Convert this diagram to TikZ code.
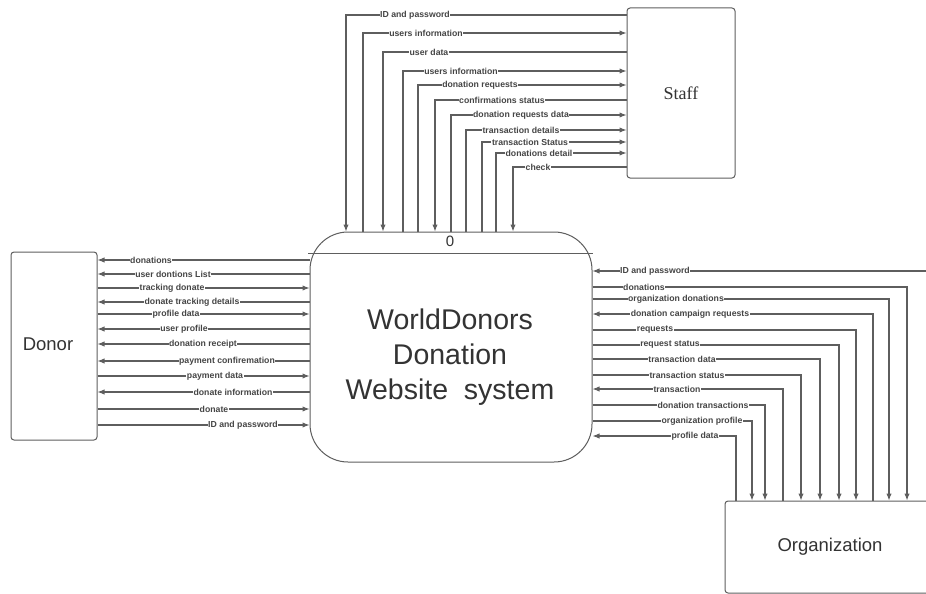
\documentclass[tikz,border=0pt]{standalone}
\usepackage{fontspec}
\usetikzlibrary{arrows.meta}
\newfontfamily\sansf{Liberation Sans}
\newfontfamily\seriff{Liberation Serif}
\definecolor{linegray}{HTML}{5E5E5E}
\definecolor{textgray}{HTML}{454545}
\definecolor{darkgray}{HTML}{333333}
\begin{document}
\begin{tikzpicture}[x=1pt,y=-1pt,
  conn/.style={draw=linegray, line width=1.1pt},
  fwd/.style={-{Latex[length=7pt,width=5.4pt]}},
  bwd/.style={{Latex[length=7pt,width=5.4pt]}-},
  lbl/.style={fill=white, inner sep=0.6pt, text=textgray,
    font=\sansf\bfseries\fontsize{8.7}{9}\selectfont},
  entity/.style={draw=linegray, line width=1pt, rounded corners=3pt, fill=white,
    text=darkgray},
]
\clip (0,0) rectangle (926,594);
\fill[white] (0,0) rectangle (926,594);

% external entities and the process
\node[entity, minimum width=108pt, minimum height=170pt,
  font=\seriff\fontsize{18}{20}\selectfont] (staff) at (681,93) {Staff};
\node[entity, minimum width=86pt, minimum height=188pt,
  font=\sansf\fontsize{18.5}{20}\selectfont] (donor) at (54,346) {};
\node[text=darkgray, font=\sansf\fontsize{18.5}{20}\selectfont] (donortxt) at (48,344) {Donor};
\node[entity, minimum width=210pt, minimum height=92pt,
  font=\sansf\fontsize{18.5}{20}\selectfont] (org) at (830,547) {Organization};
\node[draw=linegray, line width=1pt, rounded corners=38pt, fill=white,
  minimum width=282pt, minimum height=230pt] (sys) at (451,347) {};
\node[text=darkgray, align=center, font=\sansf\fontsize{28.5}{35}\selectfont]
  (systxt) at (450,357) {WorldDonors\\Donation\\Website~~system};
\node[text=darkgray, font=\sansf\fontsize{15}{16}\selectfont] (pid) at (450,241) {0};
\draw[draw=linegray, line width=0.8pt] (308,253) coordinate (sepl) -- (593,253) coordinate (sepr);

% flows between Staff and the process
\foreach \y/\xv/\txt/\lx/\dir [count=\i] in {
  15/346/ID and password/415/fwd,
  33/363/users information/426/bwd,
  52/383/user data/429/fwd,
  71/403/users information/461/bwd,
  85/418/donation requests/480/bwd,
  100/435/confirmations status/502/fwd,
  115/451/donation requests data/521/bwd,
  130/466/transaction details/521/bwd,
  142/482/transaction Status/530/bwd,
  153/496/donations detail/539/bwd,
  167/513/check/538/fwd}{
  \draw[conn,\dir] (staff.west |- 0,\y) -| (\xv,0 |- sys.north);
  \node[lbl] (sl\i) at (\lx,\y) {\txt};
}

% flows between Donor and the process
\foreach \y/\txt/\lx/\dir [count=\i] in {
  260/donations/151/bwd,
  274/user dontions List/173/bwd,
  288/tracking donate/172/fwd,
  302/donate tracking details/192/bwd,
  314/profile data/176/fwd,
  329/user profile/184/bwd,
  344/donation receipt/203/bwd,
  361/payment confiremation/227/bwd,
  376/payment data/215/fwd,
  392/donate information/233/bwd,
  409/donate/214/fwd,
  425/ID and password/243/fwd}{
  \draw[conn,\dir] (donor.east |- 0,\y) -- (sys.west |- 0,\y);
  \node[lbl] (dl\i) at (\lx,\y) {\txt};
}

% flows between the process and Organization
\foreach \y/\xv/\txt/\lx/\dir [count=\i] in {
  271/931/ID and password/655/bwd,
  287/907/donations/644/fwd,
  299/889/organization donations/676/fwd,
  314/873/donation campaign requests/690/bwd,
  330/856/requests/655/fwd,
  345/839/request status/670/fwd,
  359/820/transaction data/682/fwd,
  375/801/transaction status/687/fwd,
  389/783/transaction/677/bwd,
  405/765/donation transactions/703/fwd,
  421/752/organization profile/702/fwd,
  436/736/profile data/695/bwd}{
  \draw[conn,\dir] (sys.east |- 0,\y) -| (\xv,0 |- org.north);
  \node[lbl] (ol\i) at (\lx,\y) {\txt};
}
\end{tikzpicture}
\end{document}
